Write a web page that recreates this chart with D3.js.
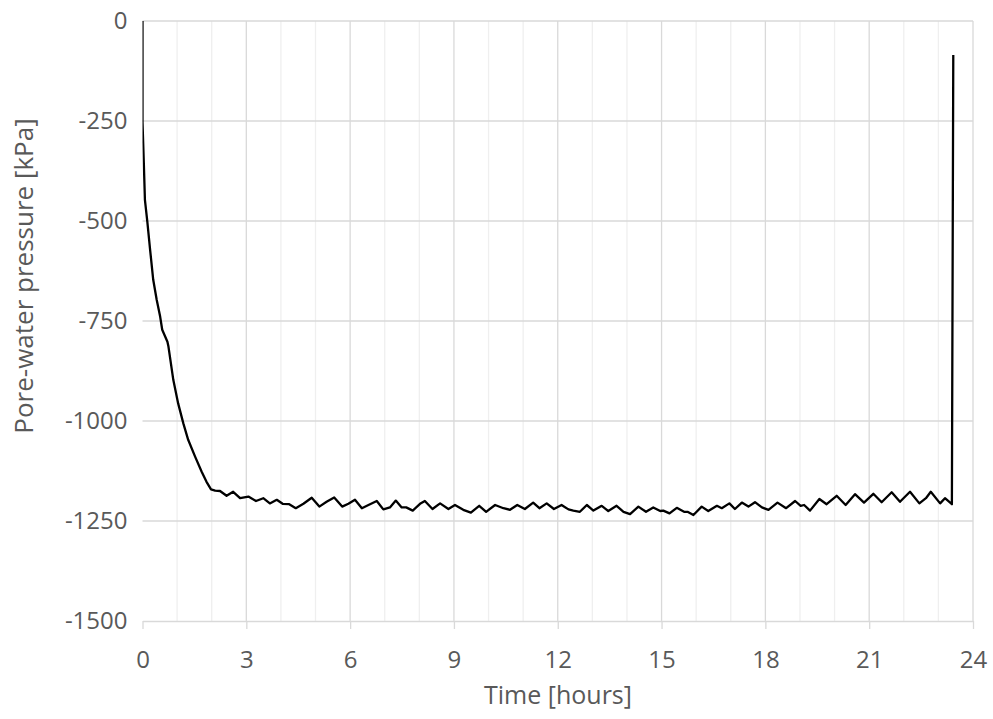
<!DOCTYPE html>
<html>
<head>
<meta charset="utf-8">
<script src="https://cdn.jsdelivr.net/npm/d3@7"></script>
<style>
  body { margin: 0; background: #fff; }
  text { font-family: "Open Sans", "Noto Sans", sans-serif; fill: #595959; }
</style>
</head>
<body>
<svg id="chart" width="993" height="719"></svg>
<script>
// time in hours, pore-water pressure in kPa
var timeH = [0, 0, 0.04, 0.07, 0.14, 0.22, 0.31, 0.41, 0.51, 0.57, 0.72, 0.75, 0.89, 1.03, 1.18, 1.32, 1.52, 1.71, 1.85, 1.98,
  2.1, 2.24, 2.43, 2.62, 2.82, 3.06, 3.28, 3.49, 3.68, 3.88, 4.05, 4.24, 4.43, 4.65, 4.89, 5.11, 5.32, 5.54, 5.77, 5.95,
  6.14, 6.34, 6.53, 6.77, 6.96, 7.15, 7.32, 7.49, 7.62, 7.81, 8.02, 8.16, 8.38, 8.6, 8.84, 9.03, 9.27, 9.49, 9.73, 9.93,
  10.19, 10.43, 10.62, 10.83, 11.05, 11.29, 11.47, 11.68, 11.89, 12.11, 12.31, 12.45, 12.64, 12.84, 13.03, 13.27, 13.46,
  13.7, 13.9, 14.09, 14.33, 14.55, 14.76, 14.96, 15.05, 15.23, 15.44, 15.65, 15.75, 15.92, 16.16, 16.35, 16.6, 16.74,
  16.96, 17.12, 17.32, 17.51, 17.7, 17.9, 18.09, 18.35, 18.6, 18.86, 19.02, 19.12, 19.29, 19.56, 19.77, 20.06, 20.32,
  20.59, 20.85, 21.12, 21.36, 21.65, 21.89, 22.18, 22.45, 22.64, 22.78, 23.05, 23.19, 23.39, 23.43];
var pressure = [0, -252, -360, -447, -502, -572, -647, -697, -739, -772, -802, -814, -897, -956, -1006, -1047, -1089, -1127, -1152, -1171,
  -1174, -1175, -1187, -1177, -1193, -1189, -1200, -1193, -1206, -1197, -1207, -1208, -1218, -1207, -1192, -1214, -1202, -1191, -1214, -1207,
  -1197, -1218, -1210, -1200, -1221, -1216, -1199, -1216, -1216, -1224, -1207, -1200, -1220, -1206, -1220, -1210, -1222, -1229, -1212, -1227,
  -1210, -1218, -1222, -1210, -1220, -1204, -1218, -1206, -1220, -1210, -1221, -1224, -1227, -1210, -1224, -1212, -1225,
  -1212, -1227, -1233, -1214, -1227, -1216, -1225, -1224, -1231, -1217, -1227, -1227, -1235, -1214, -1225, -1212, -1218,
  -1206, -1220, -1204, -1214, -1203, -1216, -1222, -1204, -1218, -1200, -1212, -1210, -1224, -1195, -1208, -1187, -1210,
  -1183, -1204, -1182, -1203, -1178, -1202, -1177, -1206, -1193, -1177, -1206, -1193, -1208, -85];

var xTicks = [0, 3, 6, 9, 12, 15, 18, 21, 24];
var yTicks = [0, -250, -500, -750, -1000, -1250, -1500];

var svg = d3.select("#chart");
var plotL = 142.5, plotR = 973, plotT = 21, plotB = 621;

var x = d3.scaleLinear().domain([0, 24]).range([plotL, plotR]);
var y = d3.scaleLinear().domain([-1500, 0]).range([plotB, plotT]);

// minor vertical grid (every hour)
svg.append("g").selectAll("line")
  .data(d3.range(1, 25).filter(d => d % 3 != 0))
  .enter().append("line")
  .attr("x1", d => x(d)).attr("x2", d => x(d))
  .attr("y1", plotT).attr("y2", plotB)
  .attr("stroke", "#efefef").attr("stroke-width", 1.3);

// major vertical grid
svg.append("g").selectAll("line")
  .data(xTicks.slice(1))
  .enter().append("line")
  .attr("x1", d => x(d)).attr("x2", d => x(d))
  .attr("y1", plotT).attr("y2", plotB)
  .attr("stroke", "#d9d9d9").attr("stroke-width", 1.3);

// horizontal grid
svg.append("g").selectAll("line")
  .data(yTicks.slice(0, -1))
  .enter().append("line")
  .attr("x1", plotL).attr("x2", plotR)
  .attr("y1", d => y(d)).attr("y2", d => y(d))
  .attr("stroke", "#d9d9d9").attr("stroke-width", 1.3);

// x axis
var xAxis = svg.append("g")
  .attr("transform", "translate(0," + plotB + ")")
  .call(d3.axisBottom(x).tickValues(xTicks).tickSize(8).tickPadding(22).tickSizeOuter(0));
xAxis.select(".domain").attr("stroke", "#d9d9d9").attr("stroke-width", 1.3);
xAxis.selectAll(".tick line").attr("stroke", "#d9d9d9").attr("stroke-width", 1.3);
xAxis.selectAll("text").style("font-size", "24px").attr("fill", "#595959").style("font-family", "Open Sans");

// y axis
var yAxis = svg.append("g")
  .attr("transform", "translate(" + plotL + ",0)")
  .call(d3.axisLeft(y).tickValues(yTicks).tickSize(0).tickPadding(15).tickFormat(d => String(d)));
yAxis.select(".domain").remove();
yAxis.selectAll("text").style("font-size", "24px").attr("fill", "#595959").style("font-family", "Open Sans");

// axis titles
svg.append("text")
  .attr("x", 558).attr("y", 704)
  .attr("text-anchor", "middle")
  .style("font-size", "25px")
  .text("Time [hours]");

svg.append("text")
  .attr("transform", "translate(24,276) rotate(-90)")
  .attr("text-anchor", "middle")
  .attr("dy", "0.35em")
  .style("font-size", "26px")
  .text("Pore-water pressure [kPa]");

// clip to plot area
svg.append("clipPath").attr("id", "plot")
  .append("rect").attr("x", plotL).attr("y", plotT - 2)
  .attr("width", plotR - plotL).attr("height", plotB - plotT + 2);

var line = d3.line()
  .x((d, i) => x(timeH[i]))
  .y(d => y(d));

svg.append("path")
  .datum(pressure)
  .attr("clip-path", "url(#plot)")
  .attr("d", line)
  .attr("fill", "none")
  .attr("stroke", "#000")
  .attr("stroke-width", 2.3)
  .attr("stroke-linejoin", "round");
</script>
</body>
</html>
